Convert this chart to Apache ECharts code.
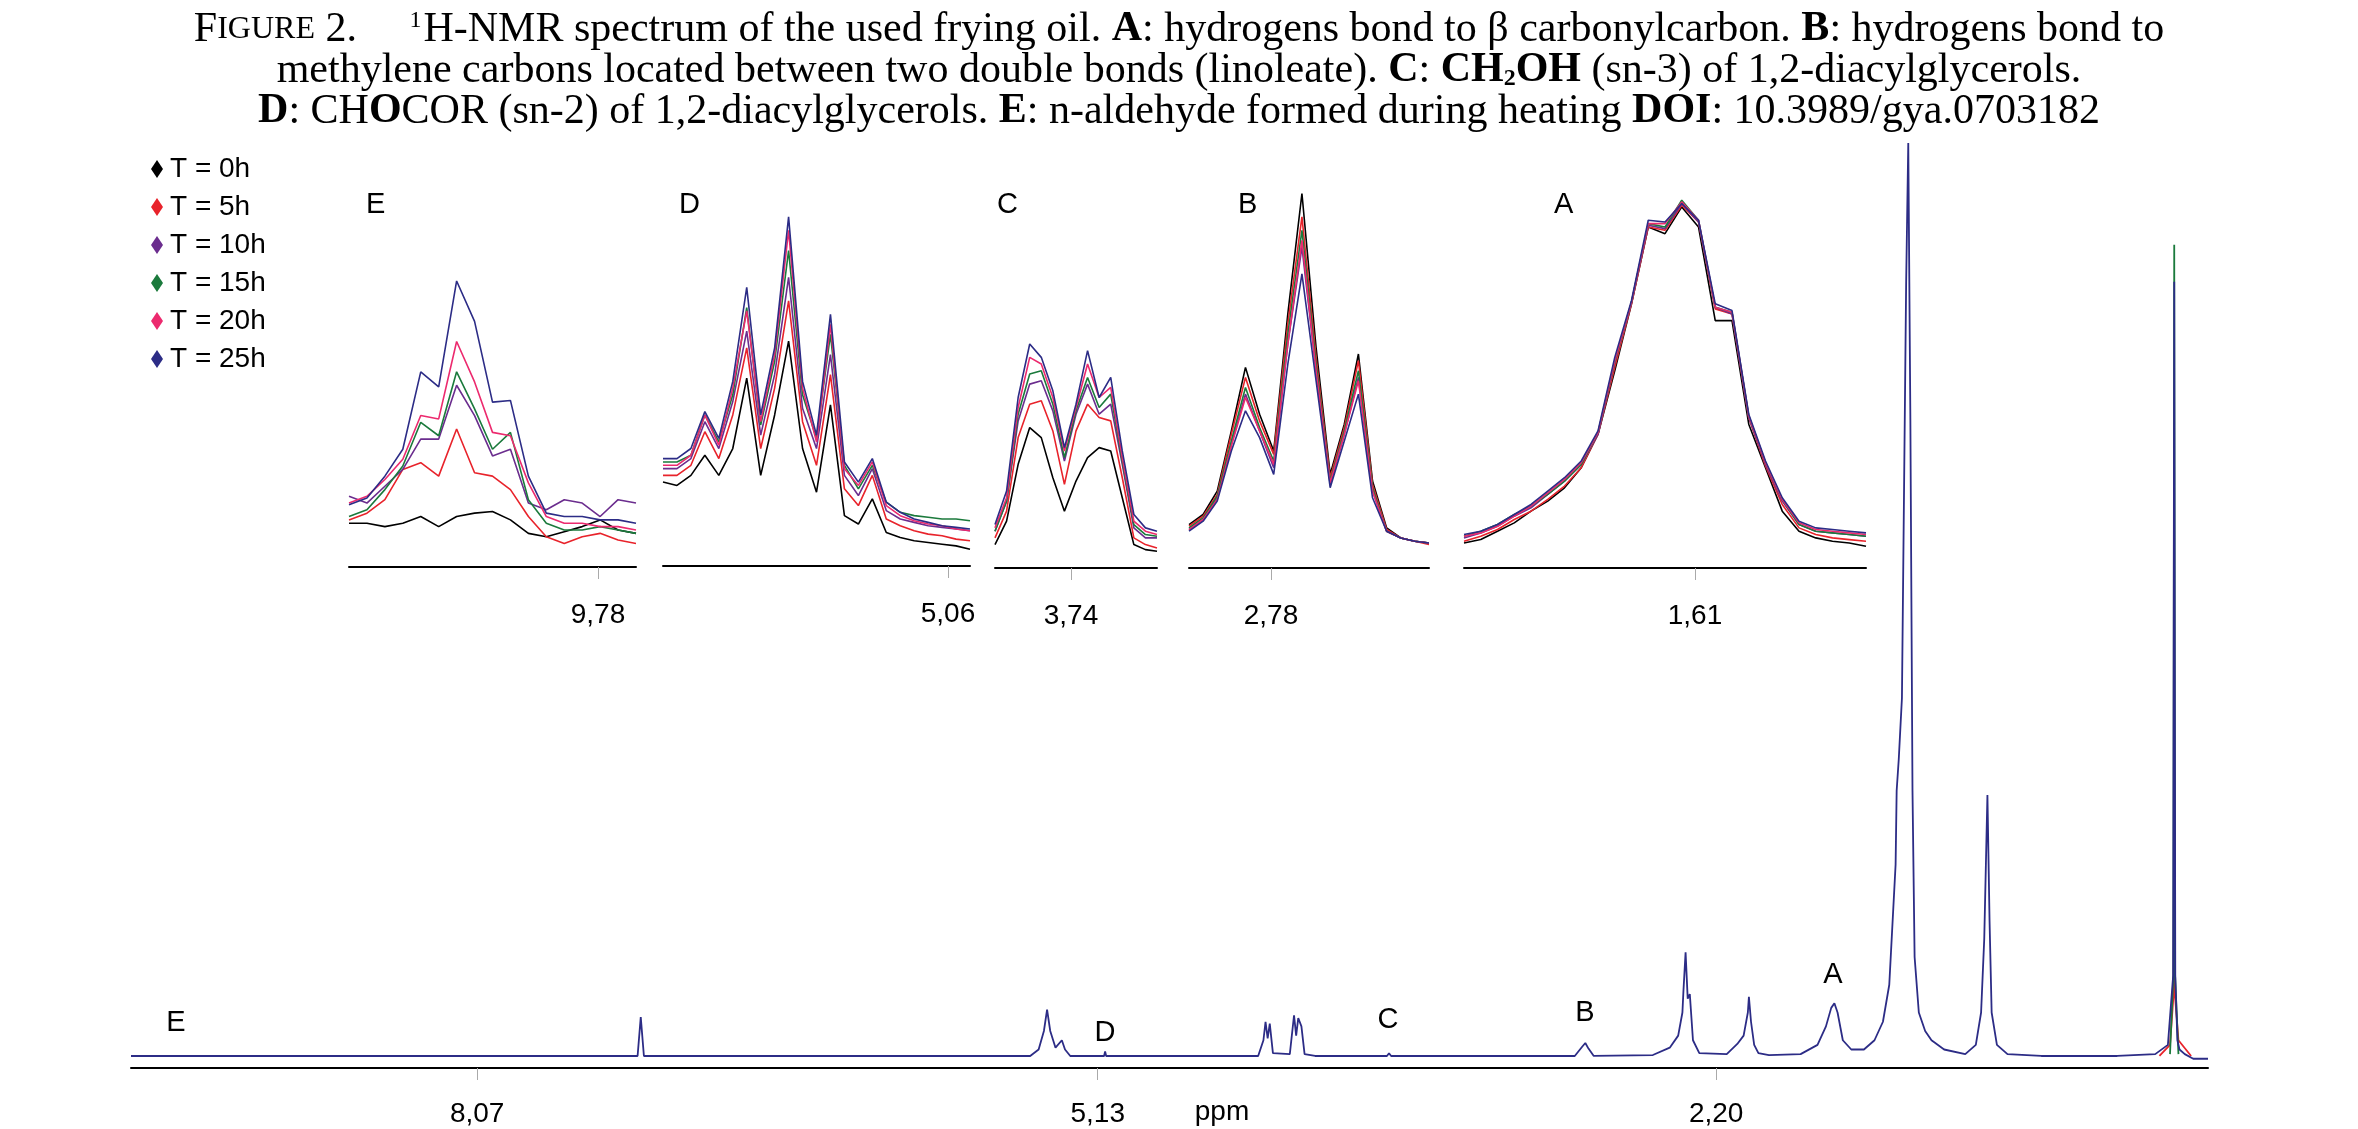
<!DOCTYPE html>
<html lang="en">
<head>
<meta charset="UTF-8">
<title>1H-NMR frying oil</title>
<script src="https://cdn.jsdelivr.net/npm/echarts@6/dist/echarts.min.js"></script>
</head>
<body style="margin:0;background:#fff">
<div id="main" style="width:2358px;height:1129px;"></div>
<script>
// time points, legend order
var times = ['T = 0h', 'T = 5h', 'T = 10h', 'T = 15h', 'T = 20h', 'T = 25h'];
var colors = ['#000000', '#e8232b', '#6b2d8e', '#1b7a3c', '#ec2a6e', '#2c2c86'];

// inset E (n-aldehyde), one row per time point
var insetE = [
  [13,13,12,13,15,12,15,16,16.5,14,10,9,10.5,12,14,11,10],
  [14,16,20,29,31,27,41,28,27,23,15,9,7,9,10,8,7],
  [21,19,24,29,38,38,54,45,33,35,19,17,20,19,15,20,19],
  [15,17,23,30,43,39,58,47,35,40,20,13,11,11,12,11,10],
  [19,21,26,32,45,44,67,55,40,39,25,15,13,13,12,12,11],
  [18.5,20.5,27,35,58,53.5,85,73,49,49.5,27,16,15,15,14,14,13]
];
// inset D (CHOCOR sn-2)
var insetD = [
  [25,24,27,33,27,35,56,27,45,67,35,22,48,15,12.5,20,10,8.5,7.5,7,6.5,6,5],
  [27,27,30,40,32,45,65,35,53,79,43,30,57,23,18,27,14,12,10.5,9.5,9,8,7.5],
  [29,29,32,43,35,49,70,39,57,86,47,35,63,27,21,29,16.5,14,13,12,11.5,11,10.5],
  [31,31,33,45,37,51,77,42,61,94,51,38,69,30,23,30,19,16,15,14.5,14,14,13.5],
  [30,30,33,45,36,53,76,43,63,100,53,37,72,29,24,31,18,15,13.5,12.5,12,11,10.5],
  [32,32,35,46,38,55,83,45,65,104,55,39,75,31,25,32,19,16,14,13,12,11.5,11]
];
// inset C (CH2OH sn-3)
var insetC = [
  [7,14,31,42,39,27,17,26,33,36,35,21,7,5.5,5],
  [9,17,39,49,50,41,25,41,49,45,44,27,9,7,6],
  [11,20,44,55,56,47,32,46,55,46,49,31,12,9,9],
  [11,20,46,58,59,49,33,47,57,48,52,32,13,10,9.5],
  [12,21,48,63,61,51,35,48,61,51,54,33,14,11,10],
  [13,23,51,67,63,53,36,49,65,51,57,35,16,12,11]
];
// inset B (bis-allylic CH2)
var insetB = [
  [13,16,23,41,60,46,35,76,112,66,28,43,64,26,12,9,8,7.5],
  [12.5,15.5,22,40,57,44,34,73,105,63,27,42,62,25,11.5,9,8,7],
  [11.5,14.5,21,37,52,41,30,67,96,59,25,40,57,23,11,9,8,7.5],
  [12,15,21.5,38,54,42,32,70,101,61,26,41,59,24,11,9,8,7.5],
  [11.5,14.5,20.5,36.5,51,41,31,67,98,59,25.5,40,56,23,11,9,8,7.5],
  [11,14,20,35,47,39,28,61,88,56,24,38,52,21,11,9,8,7.5]
];
// inset A (beta carbonyl CH2)
var insetA = [
  [7.5,8.5,11,13.5,17,20,24,30,40,59,79,102,100,108,102,74,74,43,30,17,11,9,8,7.5,6.5],
  [8,9.5,11.5,14.5,17,20.5,24.5,30,40,60,79,102,101,108.5,103.5,77.5,76,45,30.5,19,12,10,9,8.5,8],
  [9,10.5,12.5,15.5,18,22,26,31,40,61.5,79.5,102.5,101.5,109,103.5,78,76,45,31,20,13,11,10.5,10,9.5],
  [9.5,11,13,16,18.5,22,26,31,40.5,61.5,79.5,103,102,110,104,78,76.5,45.5,31.5,20.5,13,11,10.5,10,9.5],
  [9.5,10.5,12.5,15.5,18.5,22.5,26.5,31.5,40.5,62,79.5,103,103,109.5,104,78,76.5,45.5,31.5,20.5,13.5,11.5,11,10.5,10],
  [10,11,13,16,19,23,27,32,41,63,80,104,103.5,109,104,79,77,46,32,21,14,12,11.5,11,10.5]
];

// full spectrum [ppm, intensity]
var fullT25 = [
  [9.71,1.3],[7.31,1.3],[7.295,5.5],[7.28,1.3],[5.45,1.3],[5.41,2],[5.385,4],[5.37,6.3],[5.355,4],
  [5.33,2.2],[5.30,3],[5.285,2],[5.26,1.3],[5.10,1.3],[5.095,1.8],[5.09,1.3],[4.37,1.3],[4.345,3],
  [4.335,5],[4.325,3.2],[4.315,4.8],[4.30,1.6],[4.22,1.5],[4.20,5.7],[4.19,3.5],[4.18,5.4],[4.165,4.5],
  [4.15,1.5],[4.10,1.3],[3.76,1.3],[3.75,1.6],[3.74,1.3],[2.87,1.3],[2.835,2.3],[2.82,2.7],[2.805,2.1],
  [2.78,1.3],[2.50,1.4],[2.42,2.2],[2.38,3.5],[2.36,6],[2.355,8.4],[2.345,12.5],[2.335,7.5],[2.325,8],[2.31,3],
  [2.28,1.6],[2.15,1.5],[2.10,2.6],[2.07,3.5],[2.05,6],[2.045,7.7],[2.035,5],[2.02,2.5],[2.00,1.6],[1.95,1.4],[1.80,1.5],
  [1.72,2.5],[1.68,4.5],[1.655,6.5],[1.64,7],[1.625,6],[1.60,3],[1.56,2],[1.50,2],[1.45,3],[1.41,5],[1.38,9],[1.35,22],[1.345,30],
  [1.335,33.4],[1.32,40],[1.30,85],[1.29,100],[1.28,70],[1.27,30],[1.26,12],[1.24,6],[1.21,4],[1.18,3],
  [1.12,2],[1.02,1.5],[0.97,2.5],[0.945,6],[0.93,14],[0.915,29.5],[0.905,16],[0.895,6],[0.87,2.5],
  [0.82,1.5],[0.66,1.3],[0.30,1.3],[0.12,1.5],[0.06,2.5],[0.035,10],[0.03,85],[0.025,10],[0.015,3],
  [0.005,2],[-0.02,1.5],[-0.06,1],[-0.13,1]
];
var fullT5 = [[0.10,1.3],[0.05,2.5],[0.033,8],[0.03,32],[0.027,8],[0.01,3],[-0.05,1.3]];
var fullT15 = [[0.05,1.5],[0.034,10],[0.03,89],[0.026,10],[0.01,1.5]];

var tickE = 9.78, tickD = 5.06, tickC = 3.74, tickB = 2.78, tickA = 1.61;
var fullTicks = [8.07, 5.13, 2.20];

// panel geometry: pixel extent and the pixel where the labelled ppm sits
var panels = [
  {name: 'E', rows: insetE, x0: 349, x1: 636, tickPx: 598, tick: tickE, top: 180, bottom: 567, max: 115, lx: 376},
  {name: 'D', rows: insetD, x0: 663, x1: 970, tickPx: 948, tick: tickD, top: 180, bottom: 566, max: 115, lx: 689},
  {name: 'C', rows: insetC, x0: 995, x1: 1157, tickPx: 1071, tick: tickC, top: 130, bottom: 568, max: 131, lx: 1007},
  {name: 'B', rows: insetB, x0: 1189, x1: 1429, tickPx: 1271, tick: tickB, top: 130, bottom: 568, max: 131, lx: 1248},
  {name: 'A', rows: insetA, x0: 1464, x1: 1866, tickPx: 1695, tick: tickA, top: 130, bottom: 568, max: 131, lx: 1564}
];
var ppmPerPx = 0.0006;

var grids = [], xAxes = [], yAxes = [], series = [], graphics = [];
var sans = 'Liberation Sans';

panels.forEach(function (p, k) {
  var hi = p.tick + (p.tickPx - p.x0) * ppmPerPx;
  var lo = p.tick - (p.x1 - p.tickPx) * ppmPerPx;
  grids.push({left: p.x0, width: p.x1 - p.x0, top: p.top, height: p.bottom - p.top});
  xAxes.push({
    type: 'value', gridIndex: k, inverse: true, min: lo, max: hi,
    axisLine: {lineStyle: {color: '#000', width: 2}},
    axisTick: {customValues: [p.tick], length: 12, lineStyle: {color: '#aaa'}},
    axisLabel: {customValues: [p.tick], margin: 34, fontSize: 28, fontFamily: sans, color: '#000',
      formatter: function (v) { return v.toFixed(2).replace('.', ','); }},
    splitLine: {show: false}
  });
  yAxes.push({type: 'value', gridIndex: k, min: 0, max: p.max, show: false});
  p.rows.forEach(function (row, t) {
    var step = (hi - lo) / (row.length - 1);
    series.push({
      type: 'line', name: times[t], xAxisIndex: k, yAxisIndex: k, symbol: 'none',
      lineStyle: {width: 1.6, color: colors[t]}, itemStyle: {color: colors[t]},
      data: row.map(function (v, i) { return [hi - i * step, v]; }),
      silent: true, animation: false
    });
  });
  graphics.push({type: 'text', left: p.lx - 10, top: 190,
    style: {text: p.name, fontSize: 29, fontFamily: sans, fill: '#000'}});
});

// full spectrum
var fi = panels.length;
grids.push({left: 131, right: 150, top: 143, bottom: 1129 - 1068});
xAxes.push({
  type: 'value', gridIndex: fi, inverse: true, min: -0.13, max: 9.71,
  axisLine: {lineStyle: {color: '#000', width: 2}},
  axisTick: {customValues: fullTicks, length: 12, lineStyle: {color: '#aaa'}},
  axisLabel: {customValues: fullTicks, margin: 32, fontSize: 28, fontFamily: sans, color: '#000',
    formatter: function (v) { return v.toFixed(2).replace('.', ','); }},
  splitLine: {show: false}
});
yAxes.push({type: 'value', gridIndex: fi, min: 0, max: 100, show: false});
[[fullT5, 1], [fullT15, 3], [fullT25, 5]].forEach(function (d) {
  series.push({
    type: 'line', name: times[d[1]], xAxisIndex: fi, yAxisIndex: fi, symbol: 'none',
    lineStyle: {width: 1.8, color: colors[d[1]]}, itemStyle: {color: colors[d[1]]},
    data: d[0], silent: true, animation: false
  });
});

// peak letters on the full spectrum
[['E', 176, 1023], ['D', 1105, 1033], ['C', 1388, 1020], ['B', 1585, 1013], ['A', 1833, 975]].forEach(function (l) {
  graphics.push({type: 'text', x: l[1], y: l[2],
    style: {text: l[0], fontSize: 29, fontFamily: sans, fill: '#000', align: 'center', verticalAlign: 'middle'}});
});
graphics.push({type: 'text', x: 1222, y: 1112,
  style: {text: 'ppm', fontSize: 28, fontFamily: sans, fill: '#000', align: 'center', verticalAlign: 'middle'}});

var serif = 'Liberation Serif';
var fs = 42;
var option = {
  backgroundColor: '#fff',
  animation: false,
  title: {
    left: 'center', top: 4,
    text: '{sc|F}{sm|IGURE}{n| 2.     }{sup|1}{n|H-NMR spectrum of the used frying oil. }{b|A}{n|: hydrogens bond to β carbonylcarbon. }{b|B}{n|: hydrogens bond to}\n' +
      '{n|methylene carbons located between two double bonds (linoleate). }{b|C}{n|: }{b|CH}{sub|2}{b|OH}{n| (sn-3) of 1,2-diacylglycerols.}\n' +
      '{b|D}{n|: CH}{b|O}{n|COR (sn-2) of 1,2-diacylglycerols. }{b|E}{n|: n-aldehyde formed during heating }{b|DOI}{n|: 10.3989/gya.0703182}',
    textStyle: {
      fontFamily: serif, fontSize: fs, fontWeight: 'normal', lineHeight: 41, color: '#000', align: 'center',
      rich: {
        n: {fontFamily: serif, fontSize: fs, fontWeight: 'normal', color: '#000', lineHeight: 41},
        b: {fontFamily: serif, fontSize: fs, fontWeight: 'bold', color: '#000', lineHeight: 41},
        sc: {fontFamily: serif, fontSize: fs, fontWeight: 'normal', color: '#000', lineHeight: 41},
        sm: {fontFamily: serif, fontSize: 32, fontWeight: 'normal', color: '#000', lineHeight: 41},
        sup: {fontFamily: serif, fontSize: 24, fontWeight: 'normal', color: '#000', lineHeight: 41, padding: [0, 2, 18, 0]},
        sub: {fontFamily: serif, fontSize: 24, fontWeight: 'bold', color: '#000', lineHeight: 41, padding: [16, 0, 0, 0]}
      }
    }
  },
  legend: {
    orient: 'vertical', left: 146, top: 150, data: times,
    icon: 'diamond', itemWidth: 12, itemHeight: 18, itemGap: 10,
    textStyle: {fontSize: 28, fontFamily: sans, color: '#000', padding: [0, 0, 0, 2]}
  },
  grid: grids, xAxis: xAxes, yAxis: yAxes, series: series, graphic: graphics
};
var chart = echarts.init(document.getElementById('main'));
chart.setOption(option);
</script>
</body>
</html>
